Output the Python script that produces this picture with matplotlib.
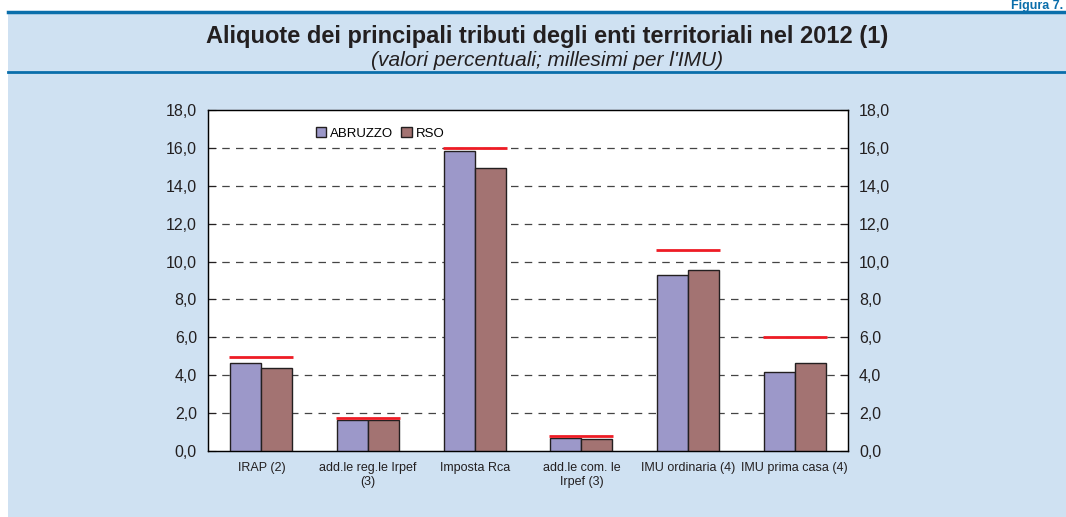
import numpy as np
import matplotlib
matplotlib.use('Agg')
import matplotlib.pyplot as plt
from matplotlib.patches import Rectangle
from matplotlib.lines import Line2D
from matplotlib.ticker import FuncFormatter

plt.rcParams['font.family'] = ['Liberation Sans', 'DejaVu Sans']

# data
categories = ['IRAP (2)', 'add.le reg.le Irpef\n(3)', 'Imposta Rca',
              'add.le com. le\nIrpef (3)', 'IMU ordinaria (4)', 'IMU prima casa (4)']
abruzzo = [4.65, 1.64, 15.85, 0.69, 9.29, 4.17]
rso = [4.38, 1.64, 14.95, 0.63, 9.56, 4.65]
massimo = [4.97, 1.74, 16.0, 0.8, 10.6, 6.0]

bg = '#cfe1f2'
blue = '#0a6eab'

fig = plt.figure(figsize=(10.66, 5.17), dpi=100)
fig.patch.set_facecolor('white')

# background panel and header lines
fig.patches.append(Rectangle((8 / 1066, 0), 1, 1 - 13 / 517, transform=fig.transFigure,
                             facecolor=bg, edgecolor='none', zorder=-10))
fig.add_artist(Line2D([8 / 1066, 1], [1 - 12 / 517] * 2, color=blue, lw=2.5))
fig.add_artist(Line2D([8 / 1066, 1], [1 - 72 / 517] * 2, color=blue, lw=2.0))

fig.text(0.997, 1.0, 'Figura 7.', ha='right', va='top', fontsize=9,
         fontweight='bold', color=blue)
fig.text(0.513, 1 - 37 / 517, 'Aliquote dei principali tributi degli enti territoriali nel 2012 (1)',
         ha='center', va='center', fontsize=17, fontweight='bold', color='#231f20')
fig.text(0.513, 1 - 60 / 517, "(valori percentuali; millesimi per l'IMU)",
         ha='center', va='center', fontsize=15, style='italic', color='#231f20')

ax = fig.add_axes([208 / 1066, 66 / 517, 640 / 1066, 341 / 517])
ax.set_facecolor('white')

x = np.arange(len(categories))
w = 0.29
ax.bar(x - w / 2, abruzzo, w, color='#9c98c9', edgecolor='#231f20', lw=1.0,
       label='ABRUZZO', zorder=3)
ax.bar(x + w / 2, rso, w, color='#a37372', edgecolor='#231f20', lw=1.0,
       label='RSO', zorder=3)
ax.hlines(massimo, x - 0.3, x + 0.3, color='#ee1c25', lw=2, zorder=4)

ax.set_xlim(-0.5, len(categories) - 0.5)
ax.set_ylim(0, 18)
ax.set_yticks(np.arange(0, 18.1, 2))
fmt = FuncFormatter(lambda v, p: ('%.1f' % v).replace('.', ','))
ax.yaxis.set_major_formatter(fmt)
for yv in np.arange(2, 17, 2):
    ax.axhline(yv, color='#444444', lw=0.9, ls=(0, (6, 5)), zorder=1)

ax.set_xticks(x)
ax.set_xticklabels(categories, fontsize=9, color='#231f20')
ax.tick_params(axis='x', length=0, pad=8)
ax.tick_params(axis='y', direction='in', length=6, labelsize=11.5, colors='#231f20', pad=8)
for s in ax.spines.values():
    s.set_color('#231f20')
    s.set_linewidth(1.0)

ax2 = ax.twinx()
ax2.set_ylim(0, 18)
ax2.set_yticks(np.arange(0, 18.1, 2))
ax2.yaxis.set_major_formatter(fmt)
ax2.tick_params(axis='y', direction='in', length=6, labelsize=11.5, colors='#231f20', pad=8)

ax.legend(loc='upper left', bbox_to_anchor=(0.15, 0.985), ncol=2, frameon=False,
          fontsize=9.5, handlelength=0.8, handleheight=0.8, handletextpad=0.3,
          columnspacing=0.6)

fig.savefig('out.png', dpi=100, facecolor=fig.get_facecolor())
